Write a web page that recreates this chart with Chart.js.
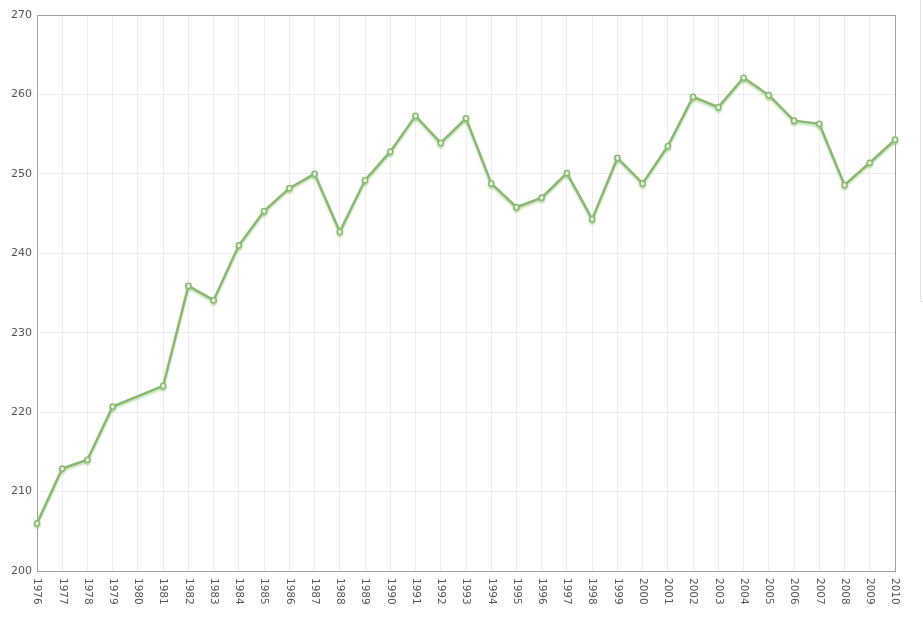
<!DOCTYPE html>
<html>
<head>
<meta charset="utf-8">
<script src="https://cdn.jsdelivr.net/npm/chart.js@4.4.1/dist/chart.umd.min.js"></script>
<style>
	html, body { margin: 0; padding: 0; background: #fff; }
	#wrap { width: 923px; height: 627px; position: relative; }
</style>
</head>
<body>
<div id="wrap"><canvas id="chart" width="923" height="627"></canvas></div>
<script>
// years on the category axis
const years = ['1976', '1977', '1978', '1979', '1980', '1981', '1982', '1983', '1984', '1985',
	'1986', '1987', '1988', '1989', '1990', '1991', '1992', '1993', '1994', '1995',
	'1996', '1997', '1998', '1999', '2000', '2001', '2002', '2003', '2004', '2005',
	'2006', '2007', '2008', '2009', '2010'];

// values (1980 missing, the line bridges the gap)
const values = [206.0, 212.9, 214.0, 220.7, null, 223.3, 235.9, 234.1, 241.0, 245.3,
	248.2, 250.0, 242.7, 249.2, 252.8, 257.3, 253.9, 257.0, 248.8, 245.8,
	247.0, 250.1, 244.3, 252.0, 248.8, 253.5, 259.7, 258.4, 262.1, 259.9,
	256.7, 256.3, 248.6, 251.4, 254.3];

const yMin = 200;
const yMax = 270;
const yStep = 10;

const lineColor = '#8ab872';
const tickFont = '10.5px "DejaVu Sans", Verdana, sans-serif';

// frame around the plot, the cut-off legend edge, and vertical year labels
const framePlugin = {
	id: 'frame',
	beforeDatasetsDraw(chart) {
		let ctx = chart.ctx;
		let a = chart.chartArea;
		ctx.save();
		ctx.strokeStyle = '#a0a0a0';
		ctx.lineWidth = 1;
		ctx.strokeRect(Math.floor(a.left) + 0.5, Math.floor(a.top) + 0.5,
			Math.round(a.right - a.left), Math.round(a.bottom - a.top));
		// edge of a legend box that is cropped by the picture
		ctx.strokeStyle = '#e2e2e2';
		ctx.beginPath();
		ctx.moveTo(920.5, 0);
		ctx.lineTo(920.5, 301.5);
		ctx.lineTo(923, 301.5);
		ctx.stroke();
		ctx.restore();
	},
	beforeDatasetDraw(chart) {
		let ctx = chart.ctx;
		ctx.save();
		ctx.shadowColor = 'rgba(150,200,130,0.55)';
		ctx.shadowOffsetX = 0;
		ctx.shadowOffsetY = 2;
		ctx.shadowBlur = 2;
	},
	afterDatasetDraw(chart) {
		chart.ctx.restore();
	},
	afterDraw(chart) {
		let ctx = chart.ctx;
		let xScale = chart.scales.x;
		let a = chart.chartArea;
		ctx.save();
		ctx.font = tickFont;
		ctx.fillStyle = '#555';
		ctx.textAlign = 'left';
		ctx.textBaseline = 'middle';
		years.forEach(function(label, i) {
			let x = xScale.getPixelForValue(i);
			ctx.save();
			ctx.translate(x, a.bottom + 7);
			ctx.rotate(Math.PI / 2);
			ctx.fillText(label, 0, 0);
			ctx.restore();
		});
		ctx.restore();
	}
};

let ctx = document.getElementById('chart').getContext('2d');
let myChart = new Chart(ctx, {
	type: 'line',
	data: {
		labels: years,
		datasets: [{
			label: 'Value',
			data: values,
			spanGaps: true,
			borderColor: lineColor,
			borderWidth: 2.5,
			tension: 0,
			pointRadius: 2.6,
			pointBorderWidth: 1.5,
			pointBackgroundColor: '#fff',
			pointBorderColor: lineColor
		}]
	},
	options: {
		responsive: false,
		animation: false,
		layout: { padding: { top: 15, right: 28, left: 0, bottom: 0 } },
		plugins: {
			legend: { display: false },
			tooltip: { enabled: false }
		},
		scales: {
			x: {
				offset: false,
				grid: { color: '#ececec', drawTicks: false },
				border: { display: false },
				ticks: { display: false },
				afterFit(scale) { scale.height = 56; }
			},
			y: {
				min: yMin,
				max: yMax,
				grid: { color: '#ececec', drawTicks: false },
				border: { display: false },
				ticks: {
					stepSize: yStep,
					padding: 5,
					color: '#555',
					font: { family: '"DejaVu Sans", Verdana, sans-serif', size: 11 }
				},
				afterFit(scale) { scale.width = 37; }
			}
		}
	},
	plugins: [framePlugin]
});
</script>
</body>
</html>
